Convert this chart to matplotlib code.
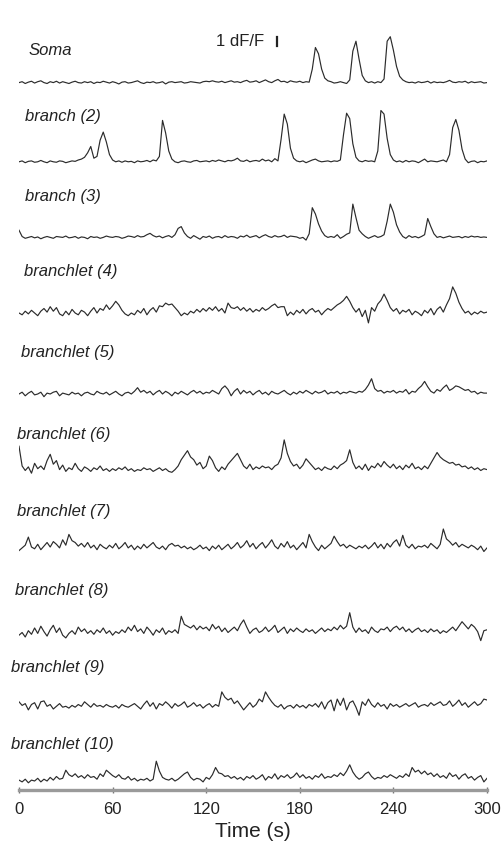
import numpy as np
import matplotlib
matplotlib.use("Agg")
import matplotlib.pyplot as plt

plt.rcParams['font.family'] = ['Liberation Sans', 'DejaVu Sans']

# time base, one sample every 2 s
t = np.arange(0, 301, 2)

names = ["Soma", "branch (2)", "branch (3)", "branchlet (4)", "branchlet (5)",
         "branchlet (6)", "branchlet (7)", "branchlet (8)", "branchlet (9)",
         "branchlet (10)"]

# dF/F traces
soma = [0.0, 0.1, -0.1, 0.05, 0.15, -0.05, 0.1, 0.2, 0.0, -0.1,
        0.1, 0.0, 0.15, -0.05, 0.1, 0.0, -0.1, 0.05, 0.15, 0.0,
        -0.05, 0.1, 0.0, 0.1, -0.1, 0.05, 0.0, 0.15, 0.05, -0.05,
        0.1, 0.0, -0.15, 0.05, 0.1, -0.05, 0.0, 0.1, 0.2, 0.0,
        -0.1, 0.05, 0.0, 0.1, -0.05, 0.0, 0.1, -0.15, 0.05, 0.1,
        0.0, 0.05, 0.1, -0.05, 0.0, 0.1, 0.05, 0.0, -0.05, 0.1,
        0.15, 0.1, 0.2, 0.1, 0.05, 0.15, 0.0, 0.1, 0.2, 0.05,
        0.1, 0.0, 0.15, 0.25, 0.05, 0.1, 0.2, 0.0, 0.15, 0.3,
        0.1, 0.0, 0.2, 0.35, 0.1, 0.15, 0.0, 0.2, 0.1, 0.05,
        0.15, 0.0, 0.1, 0.05, 1.5, 3.9, 3.2, 1.5, 0.5, 0.2,
        0.1, -0.05, 0.0, 0.1, 0.0, -0.1, 0.3, 3.5, 4.6, 2.6,
        0.8, 0.2, 0.0, 0.1, -0.05, 0.1, 0.0, 0.4, 4.6, 5.1,
        3.6, 1.8, 0.7, 0.3, 0.1, 0.0, 0.05, -0.05, 0.1, 0.0,
        0.05, 0.15, -0.05, 0.1, 0.0, 0.05, 0.0, 0.1, 0.25, 0.05,
        0.0, 0.1, 0.05, 0.15, -0.05, 0.1, 0.0, 0.05, 0.1, -0.05,
        0.0]
branch2 = [0.0, 0.1, -0.1, 0.05, 0.1, -0.05, 0.0, 0.15, 0.0, -0.1,
           0.1, 0.0, -0.05, 0.1, 0.05, -0.1, 0.0, 0.1, 0.05, 0.2,
           0.3, 0.5, 1.0, 1.7, 0.4, 0.6, 2.4, 3.3, 2.2, 0.8,
           0.2, 0.0, 0.1, -0.05, 0.1, 0.0, 0.05, -0.1, 0.1, 0.0,
           0.05, 0.15, 0.0, 0.2, 0.1, 0.6, 4.6, 3.2, 1.2, 0.3,
           0.0, -0.1, 0.05, 0.1, 0.0, -0.05, 0.1, 0.15, 0.0, 0.05,
           0.1, 0.0, 0.15, 0.05, 0.2, 0.1, 0.0, 0.15, 0.1, 0.2,
           0.4, 0.1, 0.05, 0.2, 0.0, 0.1, 0.15, 0.05, 0.3, 0.1,
           0.2, 0.0, 0.35, 0.1, 2.5, 5.3, 4.2, 1.5, 0.4, 0.1,
           0.0, 0.1, -0.1, 0.05, 0.2, 0.3, 0.1, 0.0, 0.05, 0.1,
           0.0, 0.1, 0.05, 0.2, 3.0, 5.4, 4.8, 2.0, 0.5, 0.1,
           0.0, 0.15, 0.05, 0.1, 0.0, 1.2, 5.7, 5.3, 2.6, 0.8,
           0.2, 0.0, 0.1, -0.05, 0.15, 0.0, 0.1, 0.05, -0.1, 0.1,
           0.3, 0.0, 0.1, 0.05, 0.0, 0.1, 0.2, 0.0, 0.8, 3.8,
           4.7, 3.5, 1.4, 0.3, -0.1, 0.05, 0.1, -0.1, 0.05, 0.0,
           0.1]
branch3 = [0.8, 0.1, -0.1, 0.0, 0.1, -0.05, 0.05, -0.15, 0.0, 0.1,
           0.0, -0.1, 0.1, 0.05, 0.0, 0.15, -0.05, 0.0, 0.1, -0.1,
           0.05, 0.0, -0.15, 0.1, 0.0, 0.05, -0.1, 0.0, 0.15, 0.05,
           0.0, 0.1, 0.05, -0.1, 0.0, 0.15, 0.1, 0.0, 0.2, 0.05,
           0.1, 0.3, 0.45, 0.2, 0.05, 0.15, -0.05, 0.1, 0.2, 0.0,
           0.3, 1.0, 1.2, 0.5, 0.1, -0.1, 0.2, 0.0, -0.2, 0.1,
           0.0, 0.15, -0.1, 0.05, 0.1, -0.05, 0.2, 0.0, 0.1, 0.05,
           -0.1, 0.15, 0.05, 0.25, 0.0, 0.1, 0.2, -0.05, 0.15, 0.3,
           0.1, 0.0, 0.2, 0.05, 0.1, 0.25, 0.0, 0.15, 0.1, 0.05,
           -0.1, 0.0, -0.3, 0.4, 3.3, 2.6, 1.5, 0.7, 0.2, 0.0,
           0.1, 0.0, 0.3, -0.1, 0.1, 0.35, 0.5, 3.7, 2.2, 0.8,
           0.4, 0.1, -0.1, 0.05, 0.2, 0.0, 0.1, 0.3, 1.8, 3.7,
           2.8, 1.4, 0.6, 0.1, -0.1, 0.2, 0.0, 0.1, -0.05, 0.1,
           0.3, 2.1, 1.2, 0.4, 0.0, 0.1, -0.05, 0.05, 0.15, 0.0,
           0.05, 0.1, -0.05, 0.1, 0.0, 0.15, 0.05, 0.1, 0.0, 0.05,
           0.0]
branchlet4 = [0.0, -0.2, 0.2, -0.1, 0.3, 0.0, -0.3, 0.2, 0.5, 0.1,
              0.7, 0.2, 0.6, -0.1, -0.3, 0.2, -0.2, 0.4, 0.0, -0.2,
              0.3, 0.1, -0.3, 0.2, 0.6, 0.0, 0.5, 0.3, 0.9, 0.4,
              0.8, 1.3, 0.9, 0.3, -0.1, -0.3, 0.0, -0.2, 0.3, 0.0,
              0.5, -0.2, 0.3, 0.6, 0.1, 0.8, 0.7, 1.1, 0.9, 1.0,
              0.6, 0.2, -0.3, 0.0, -0.2, 0.2, 0.0, 0.4, 0.1, 0.5,
              0.2, 0.6, 0.3, 0.7, 0.2, 0.5, 0.0, 1.1, 0.6, 0.5,
              0.7, 0.3, 0.6, 0.2, 0.5, 0.1, 0.4, 0.2, 0.6, 0.3,
              0.5, 0.8, 1.0, 0.6, 0.7, 0.7, -0.3, 0.1, -0.2, 0.3,
              0.0, 0.4, -0.1, 0.3, 0.5, 0.1, 0.3, -0.2, 0.2, 0.5,
              0.3, 0.6, 0.9, 1.1, 1.4, 1.85, 1.3, 0.6, 0.1, 0.5,
              -0.4, 0.3, -1.1, 0.6, 0.2, 1.0, 1.4, 2.1, 1.4, 0.6,
              0.2, 0.5, -0.1, 0.3, 0.1, 0.4, -0.2, 0.2, 0.0, -0.3,
              0.3, 0.0, 0.5, -0.2, 0.4, 0.7, 0.1, 0.9, 1.6, 2.9,
              2.2, 1.2, 0.5, 0.0, 0.2, -0.2, 0.1, -0.1, 0.2, 0.0,
              0.1]
branchlet5 = [0.0, 0.2, -0.2, 0.1, 0.3, -0.1, 0.0, 0.2, -0.3, 0.1,
              0.0, 0.2, 0.3, -0.2, 0.1, 0.0, -0.1, 0.2, 0.0, 0.1,
              -0.2, 0.1, 0.2, 0.0, -0.1, 0.3, 0.1, 0.0, 0.2, -0.1,
              0.1, 0.3, 0.0, -0.2, 0.1, 0.2, 0.0, 0.3, 0.7, 0.2,
              0.4, 0.1, 0.3, -0.1, 0.2, 0.4, 0.0, 0.3, 0.1, -0.2,
              0.2, 0.0, 0.3, 0.1, -0.1, 0.2, 0.4, 0.1, 0.3, 0.0,
              0.2, 0.1, 0.4, 0.2, 0.0, 0.6, 0.9, 0.5, -0.2, 0.3,
              0.6, 0.0, 0.4, 0.1, 0.3, -0.1, 0.2, 0.4, 0.0, 0.2,
              -0.1, 0.3, 0.1, 0.0, 0.2, 0.4, 0.1, -0.1, 0.2, 0.0,
              0.3, 0.1, 0.4, 0.2, 0.0, 0.3, 0.1, 0.2, 0.4, 0.0,
              0.2, 0.1, 0.3, 0.0, 0.2, 0.1, 0.3, 0.2, 0.1, 0.3,
              0.2, 0.5, 1.0, 1.7, 0.6, 0.3, 0.4, 0.1, 0.3, 0.2,
              0.4, 0.1, 0.3, 0.2, 0.5, 0.0, 0.3, 0.2, 0.6, 0.9,
              1.4, 0.8, 0.3, 0.1, 0.5, 0.3, 0.7, 1.0, 0.4, 0.6,
              0.9, 0.8, 0.6, 0.4, 0.5, 0.2, 0.3, 0.0, 0.2, 0.1,
              0.1]
branchlet6 = [2.8, 0.6, 0.1, 0.5, -0.2, 0.9, 0.3, 0.6, 0.2, 1.2,
              1.9, 0.8, 1.2, 0.2, 0.7, 0.0, 0.4, 0.2, 0.9, 0.3,
              0.0, 0.5, 0.3, 0.0, 0.4, 0.2, 0.6, 0.1, 0.3, 0.0,
              0.3, 0.1, 0.4, 0.2, 0.5, 0.1, 0.3, 0.0, 0.2, 0.1,
              0.4, 0.2, 0.3, 0.0, 0.2, 0.4, 0.1, 0.3, 0.0, -0.1,
              0.2, 0.6, 1.3, 1.8, 2.3, 1.6, 1.3, 0.7, 1.0, 0.3,
              0.6, 1.7, 1.2, 0.4, 0.0, 0.5, 0.2, 0.8, 1.2, 1.6,
              2.0, 1.3, 0.6, 0.3, 0.8, 0.2, 0.5, 0.3, 0.6, 0.4,
              0.5, 0.2, 0.6, 0.8, 1.5, 3.5, 2.0, 1.1, 0.6, 0.8,
              0.3, 0.7, 1.4, 1.0, 0.6, 0.2, 0.4, 0.1, 0.5, 0.3,
              0.2, 0.6, 0.3, 0.7, 0.9, 1.2, 2.4, 1.0, 0.3, 0.6,
              0.2, 0.8, 0.1, 0.6, 0.4, 0.9, 0.5, 1.1, 0.7, 0.4,
              0.8, 0.3, 0.6, 0.2, 0.7, 0.4, 0.9, 0.3, 0.5, 0.2,
              0.6, 0.3, 0.9, 1.5, 2.1, 1.6, 1.3, 1.1, 0.9, 1.0,
              0.7, 0.8, 0.5, 0.6, 0.3, 0.5, 0.2, 0.4, 0.1, 0.3,
              0.2]
branchlet7 = [0.0, 0.3, 0.6, 1.5, 0.4, 0.2, 0.7, 0.1, 0.5, 0.9,
              0.4, 1.0, 0.7, 0.3, 1.2, 0.6, 1.8, 1.1, 0.9, 0.5,
              0.8, 0.4, 0.9, 0.3, 0.6, 0.1, 0.7, 0.4, 0.2, 0.6,
              0.3, 0.8, 0.2, 0.5, 0.9, 0.3, 0.6, 0.1, 0.5, 0.2,
              0.7, 0.3, 0.6, 0.9, 0.4, 0.2, 0.5, 0.1, 0.6, 0.8,
              0.5, 0.6, 0.3, 0.5, 0.2, 0.4, 0.1, 0.3, 0.6, 0.2,
              0.4, 0.0, 0.5, 0.2, 0.6, 0.1, 0.4, 0.7, 0.2, 0.5,
              0.9, 0.3, 0.6, 1.1, 0.4, 0.8, 0.2, 0.6, 0.9, 0.3,
              0.7, 1.2, 0.5, 0.2, 0.8, 0.4, 1.0, 0.3, 0.6, 0.1,
              0.5, 0.9, 0.3, 1.8, 1.0, 0.4, 0.0, 0.6, 0.2, 0.5,
              0.8, 1.6, 1.0, 0.5, 0.7, 0.3, 0.6, 0.4, 0.2, 0.5,
              0.3, 0.6, 0.2, 0.5, 0.9, 0.3, 0.7, 0.2, 0.8, 0.4,
              0.9, 1.2, 0.5, 1.7, 0.6, 0.3, 0.7, 0.2, 0.5, 0.4,
              0.6, 0.3, 0.8, 0.5, 0.2, 0.7, 2.4, 1.3, 1.0, 0.6,
              0.9, 0.4, 0.7, 0.5, 0.3, 0.6, 0.4, 0.1, 0.5, -0.1,
              0.3]
branchlet8 = [0.0, 0.3, -0.2, 0.5, 0.1, 0.8, 0.2, 1.0, 0.4, -0.1,
              0.6, 1.1, 0.3, 0.8, 0.0, -0.3, 0.2, 0.5, 0.1, 0.9,
              0.4, 0.7, 0.2, 0.5, 0.1, 0.6, 0.3, 0.8, 0.2, 0.5,
              0.0, 0.4, 0.2, 0.6, 0.3, 0.9, 0.5, 1.1, 0.4, 0.7,
              0.2, 0.9, 0.5, 0.0, 0.6, 0.3, 0.8, 0.1, 0.5, 0.3,
              0.6, 0.2, 2.1, 1.2, 1.0, 0.8, 1.1, 0.6, 1.0, 0.7,
              0.9, 0.5, 1.2, 0.7, 1.0, 0.4, 0.8, 0.3, 0.6, 0.9,
              0.5, 1.2, 1.7, 0.9, 0.2, 0.6, 0.8, 0.3, 0.5, 0.9,
              0.4, 0.7, 1.1, 0.3, 0.6, 0.9, 0.2, 0.7, 0.4, 0.8,
              0.5, 0.3, 0.7, 0.4, 0.6, 0.2, 0.5, 0.8, 0.4, 0.7,
              0.5, 0.9, 0.6, 1.1, 0.7, 1.0, 2.5, 0.9, 0.3, 0.8,
              0.4, 0.6, 0.2, 0.9, 0.5, 0.3, 0.7, 0.6, 0.9, 0.4,
              0.8, 1.0, 0.6, 0.9, 0.4, 0.7, 0.3, 0.6, 0.8, 0.4,
              0.6, 0.3, 0.7, 0.4, 0.6, 0.2, 0.5, 0.3, 0.6, 0.9,
              0.5, 1.0, 1.5, 1.1, 0.7, 1.2, 0.9, 0.4, -0.6, 0.5,
              0.6]
branchlet9 = [0.6, 0.2, 0.4, -0.3, 0.3, 0.5, -0.2, 0.6, 0.7, 0.1,
              0.3, -0.2, 0.1, 0.4, 0.0, 0.1, -0.1, 0.2, 0.0, 0.3,
              0.1, 0.6, 0.3, 0.0, 0.4, 0.1, 0.2, 0.0, 0.3, 0.1,
              0.0, 0.2, -0.1, 0.3, 0.1, 0.0, 0.2, 0.4, 0.1, -0.2,
              0.3, 0.7, 0.1, 0.5, -0.2, 0.4, 0.2, 0.6, 0.3, -0.1,
              0.4, 0.1, 0.3, 0.6, 0.0, 0.2, 0.5, 0.1, 0.3, -0.1,
              0.2, 0.4, 0.0, 0.3, 0.1, 1.7, 1.1, 0.8, 1.0, 0.4,
              0.7, 0.2, -0.3, 0.1, 0.5, 0.0, 0.3, 0.9, 0.6, 1.7,
              1.1, 0.6, 0.2, 0.0, 0.3, -0.2, 0.1, 0.2, -0.1, 0.3,
              0.0, 0.2, -0.1, 0.3, 0.1, 0.4, 0.0, 0.6, -0.2, 0.5,
              0.8, -0.4, 0.9, 0.2, 1.0, -0.3, 0.5, 0.7, 0.0, -0.9,
              0.6, 0.2, 0.9, 0.3, 0.0, 0.5, 0.1, 0.3, -0.2, 0.4,
              0.1, 0.3, 0.0, 0.2, 0.4, 0.1, 0.3, 0.5, 0.0, 0.2,
              0.3, 0.1, 0.5, 0.2, 0.4, 0.6, 0.2, 0.3, 0.7, 0.1,
              0.4, 0.8, 0.2, 0.5, 0.0, 0.3, 0.6, 0.2, 0.4, 0.9,
              0.8]
branchlet10 = [0.2, 0.0, 0.3, -0.1, 0.2, 0.1, 0.4, 0.0, 0.3, 0.1,
               0.5, 0.2, 0.6, 0.3, 0.4, 1.3, 0.8, 0.6, 0.9, 0.5,
               0.7, 0.4, 0.8, 0.5, 0.6, 0.3, 0.9, 0.6, 1.3, 1.0,
               0.7, 0.5, 0.8, 0.4, 0.3, 0.6, 0.2, 0.4, 0.1, 0.3,
               0.2, 0.4, 0.1, 0.3, 2.3, 1.2, 0.5, 0.3, 0.2, 0.4,
               0.1, 0.3, 0.6, 0.9, 1.1, 0.5, 0.2, 0.4, 0.3, 0.0,
               0.5, 0.3, 0.8, 1.6, 1.0, 0.9, 0.6, 0.7, 0.4, 0.6,
               0.3, 0.5, 0.2, 0.6, 0.4, 0.7, 0.3, 0.5, 0.8, 0.2,
               0.6, 0.4, 0.9, 0.3, 0.7, 0.5, 0.8, 0.4, 0.6, 1.0,
               0.5, 0.8, 0.4, 0.6, 0.3, 0.7, 0.5, 0.9, 0.4, 0.6,
               0.5, 0.8, 0.6, 1.0, 0.7, 1.2, 1.9, 1.1, 0.6, 0.3,
               0.5, 0.9, 1.1, 0.6, 0.3, 0.5, 0.4, 0.7, 0.5, 0.8,
               0.6, 0.4, 0.7, 0.5, 0.9, 0.6, 1.6, 1.1, 1.3, 0.9,
               1.2, 0.8, 1.0, 0.6, 0.9, 0.5, 0.7, 0.4, 1.0, 0.6,
               0.8, 0.3, 0.7, 0.9, 0.4, 0.6, 0.2, 0.5, 0.7, 0.0,
               0.4]

traces = [soma, branch2, branch3, branchlet4, branchlet5,
          branchlet6, branchlet7, branchlet8, branchlet9, branchlet10]

# vertical stacking (in dF/F units, 1 dF/F ~ 9 px)
offsets = [78.6, 69.8, 61.4, 53.0, 44.0, 35.4, 26.6, 17.2, 9.2, 0.9]
label_x = [6, 4, 4, 3, 1, -1, -1, -2.5, -5, -5]
label_y = [82.2, 74.8, 66.0, 57.6, 48.6, 39.5, 30.9, 22.2, 13.6, 5.0]

fig = plt.figure(figsize=(5.02, 8.56), dpi=100)
ax = fig.add_axes([19 / 502, 66 / 856, 468 / 502, 790 / 856])

for tr, off in zip(traces, offsets):
    ax.plot(t, np.array(tr) + off, color='#2b2b2b', lw=0.85)

for name, lx, ly in zip(names, label_x, label_y):
    ax.text(lx, ly, name, fontsize=12, style='italic', color='#222222',
            va='center', ha='left')

# scale bar: 1 dF/F
ax.plot([165.5, 165.5], [82.7, 83.7], color='#222222', lw=1.6)
ax.text(157, 83.2, "1 dF/F", fontsize=12, color='#222222', ha='right', va='center')

ax.set_xlim(0, 300)
ax.set_ylim(0, 790 / 9)
ax.set_xticks([0, 60, 120, 180, 240, 300])
ax.set_yticks([])
for s in ['top', 'right', 'left']:
    ax.spines[s].set_visible(False)
ax.spines['bottom'].set_color('#9a9a9a')
ax.spines['bottom'].set_linewidth(2.4)
ax.tick_params(axis='x', direction='inout', length=5, width=1, color='#777777',
               labelsize=12, labelcolor='#222222', pad=6)
ax.set_xlabel("Time (s)", fontsize=15, color='#222222', labelpad=4)

fig.savefig("out.png", dpi=100)
